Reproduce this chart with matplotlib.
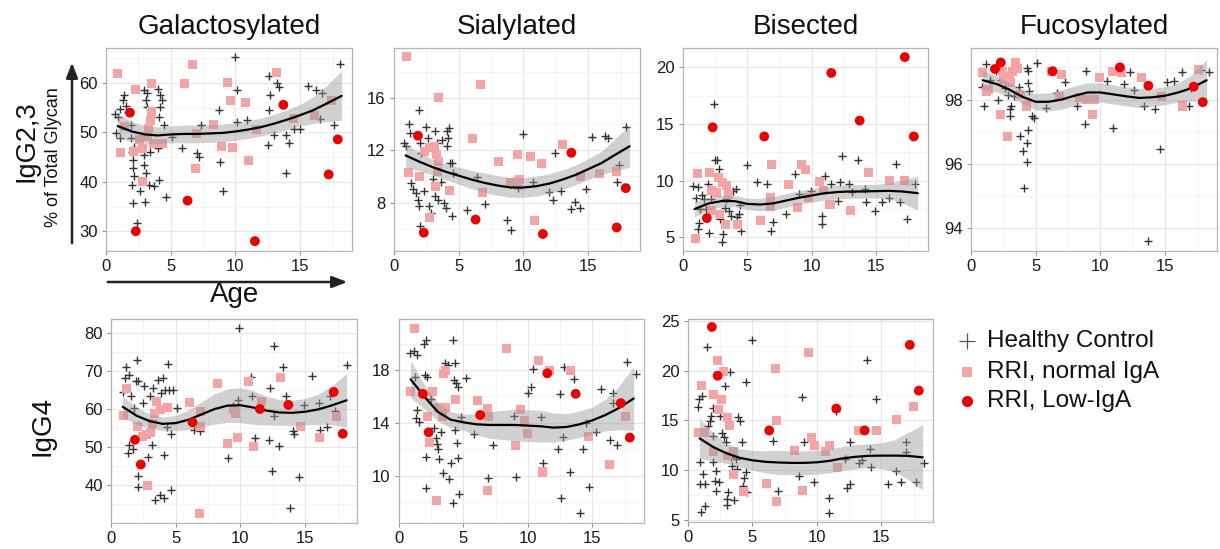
import matplotlib
matplotlib.use("Agg")
import matplotlib.pyplot as plt
from matplotlib.lines import Line2D

plt.rcParams['font.family'] = ['Liberation Sans', 'DejaVu Sans']

# ---------------- data ----------------
titles = ["Galactosylated", "Sialylated", "Bisected", "Fucosylated"]
row_labels = ["IgG2,3", "IgG4"]
legend_labels = ["Healthy Control", "RRI, normal IgA", "RRI, Low-IgA"]
age_ticks = [0, 5, 10, 15]

low_iga_age = [1.85, 2.3, 6.3, 11.5, 13.7, 17.2, 17.9]
fit_age = [0.9, 2, 3, 4, 5, 6, 7, 8, 9, 10, 11, 12, 13, 14, 15, 16, 17, 18.2]

# --- IgG2,3 Galactosylated ---
gal23_control = [(0.7,53.8),(0.9,53.2),(1.1,54.8),(1.3,56.5),(1.4,57.5),(1.55,55.3),(1.7,54.2),(1.9,51.5),(1.9,48.8),(2.0,46.1),
                 (2.1,44.4),(2.1,42.8),(2.2,41.1),(2.0,39.4),(2.1,35.7),(2.4,31.7),(2.2,47.1),(2.6,38.1),(2.9,43.4),(2.9,45.4),
                 (3.0,36.0),(3.1,41.7),(3.3,39.4),(2.9,58.5),(3.2,57.9),(3.1,56.5),(3.2,55.2),(3.4,46.1),(3.7,39.1),(4.0,46.8),
                 (4.05,58.9),(4.2,57.5),(4.3,56.5),(4.2,55.2),(4.1,53.2),(4.1,40.4),(4.5,51.5),(4.6,37.0),(5.1,49.1),(5.9,46.8),
                 (7.0,45.8),(7.2,45.1),(7.3,51.5),(8.8,44.1),(9.0,38.1),(8.7,54.5),(10.0,65.2),(10.1,58.5),(10.1,52.1),(10.9,52.5),
                 (12.5,47.4),(12.6,54.5),(12.7,57.5),(12.6,61.5),(13.0,49.5),(13.2,60.0),(13.4,59.2),(13.9,49.5),(13.9,41.7),(14.1,47.8),
                 (14.5,50.8),(15.0,50.8),(15.6,59.5),(16.2,58.5),(16.5,52.8),(16.7,57.9),(17.6,51.5),(18.1,63.9),(0.8,49.8),(1.1,48.8)]
gal23_normal = [(0.88,61.9),(1.14,45.9),(2.3,58.7),(3.5,59.9),(2.1,46.1),(2.8,46.8),(2.8,40.1),(3.5,54.2),(3.4,52.5),(3.3,50.8),
                (3.2,49.1),(3.7,47.8),(4.4,47.8),(2.6,48.5),(6.1,59.9),(6.7,63.8),(6.9,42.8),(7.0,49.7),(8.3,51.7),(8.9,47.2),
                (9.4,60.2),(9.6,56.5),(9.8,46.9),(10.8,56.0),(11.0,44.4),(11.6,50.5),(13.2,62.2),(14.5,52.8),(16.1,53.5),(17.4,56.5),
                (1.4,51.3)]
gal23_low = [54.0, 30.0, 36.2, 28.0, 55.6, 41.5, 48.6]
gal23_fit = [51.3,50.2,49.6,49.4,49.6,49.7,49.7,49.8,49.9,50.2,50.6,51.1,51.8,52.6,53.5,54.5,55.8,57.4]
gal23_se = [2.5,2.0,1.8,1.7,1.7,1.8,1.8,1.8,1.8,1.8,1.8,1.8,1.9,2.0,2.2,2.7,3.6,5.0]

# --- IgG2,3 Sialylated ---
sia23_control = [(0.8,12.56),(0.94,12.3),(1.15,14.0),(1.2,13.3),(1.3,9.5),(1.45,9.0),(1.7,8.74),(1.83,8.2),(1.96,15.1),(2.0,12.56),
                 (2.1,11.8),(1.96,7.7),(2.0,6.2),(2.34,8.9),(2.5,13.8),(2.6,12.9),(2.7,7.7),(2.85,7.2),(2.98,9.76),(3.2,13.45),
                 (3.3,12.56),(3.36,8.2),(3.2,8.5),(3.6,9.6),(3.7,12.8),(3.9,7.97),(4.0,7.6),(4.1,13.45),(4.25,13.7),(4.2,12.9),
                 (4.1,12.3),(4.3,11.0),(4.5,11.0),(4.55,10.27),(4.5,6.96),(5.65,7.4),(7.05,7.9),(6.4,9.96),(8.7,6.7),(9.0,5.94),
                 (10.0,13.2),(9.54,9.1),(10.7,9.6),(12.4,11.8),(12.0,8.8),(12.27,8.2),(12.9,8.9),(13.7,7.5),(14.0,8.05),(14.4,7.6),
                 (14.8,9.05),(15.3,13.0),(16.3,13.1),(16.5,12.9),(17.2,9.6),(17.4,10.85),(17.9,13.8)]
sia23_normal = [(0.94,19.13),(1.15,10.27),(1.96,10.0),(2.34,11.9),(2.72,12.2),(3.1,12.3),(3.3,11.7),(3.4,11.1),(3.36,10.4),(3.2,9.25),
                (2.72,6.83),(3.43,16.0),(4.25,8.94),(6.03,12.87),(6.67,17.0),(6.84,8.8),(8.1,11.1),(8.96,9.55),(9.54,9.6),(9.54,11.67),
                (9.7,9.76),(10.56,11.54),(10.87,6.65),(11.4,10.98),(13.0,12.43),(14.4,10.0),(15.9,10.2),(17.2,10.4)]
sia23_low = [13.1, 5.7, 6.7, 5.6, 11.8, 6.1, 9.1]
sia23_fit = [11.6,11.1,10.7,10.35,10.05,9.75,9.5,9.3,9.15,9.15,9.25,9.45,9.75,10.1,10.55,11.0,11.6,12.3]
sia23_se = [0.9,0.7,0.6,0.6,0.65,0.7,0.75,0.75,0.75,0.75,0.75,0.75,0.75,0.75,0.8,0.9,1.2,1.6]

# --- IgG2,3 Bisected ---
bis23_control = [(0.77,9.56),(1.0,8.5),(1.2,9.4),(1.3,7.5),(1.27,6.3),(1.2,5.7),(1.45,8.7),(1.6,8.4),(1.8,7.5),(1.9,9.7),
                 (2.0,5.4),(2.2,8.4),(2.5,11.8),(2.4,16.8),(2.65,11.8),(2.8,11.0),(2.9,6.6),(3.0,4.56),(3.1,5.3),(3.24,7.6),
                 (3.37,8.4),(3.57,7.35),(3.75,6.9),(3.9,9.1),(4.1,9.26),(4.2,6.76),(4.35,7.06),(4.5,5.6),(4.4,7.9),(5.0,11.4),
                 (5.7,9.85),(6.5,9.7),(6.8,5.6),(7.0,6.4),(8.0,7.06),(8.65,10.6),(9.0,8.8),(9.9,9.1),(10.8,6.9),(10.8,6.2),
                 (11.0,10.4),(11.5,9.7),(12.0,8.24),(12.2,9.85),(12.35,12.2),(12.9,9.7),(13.1,9.0),(13.6,11.8),(14.1,9.26),(14.2,8.1),
                 (14.9,7.35),(15.4,8.1),(16.0,8.5),(16.5,11.5),(16.8,8.1),(17.4,6.6),(18.0,9.7)]
bis23_normal = [(0.94,4.94),(1.15,10.6),(2.04,10.7),(2.2,9.1),(2.6,9.0),(2.73,10.3),(3.1,9.85),(3.37,9.56),(3.5,8.8),(2.86,7.06),
                (3.3,6.18),(2.2,7.35),(4.2,6.1),(6.0,6.5),(6.8,8.5),(6.9,11.4),(6.8,7.7),(8.16,9.7),(8.85,7.6),(9.2,11.4),
                (9.5,11.0),(9.74,8.5),(10.56,9.94),(10.9,9.1),(11.4,7.9),(13.0,7.4),(14.4,10.7),(16.0,10.0),(17.2,10.0)]
bis23_low = [6.7, 14.7, 13.9, 19.5, 15.3, 20.9, 13.9]
bis23_fit = [7.5,8.0,8.2,8.2,7.95,7.9,8.0,8.25,8.5,8.7,8.9,9.0,9.05,9.05,9.08,9.1,9.05,8.9]
bis23_se = [0.7,0.55,0.5,0.5,0.5,0.55,0.6,0.6,0.6,0.6,0.6,0.6,0.6,0.6,0.6,0.7,1.0,1.5]

# --- IgG2,3 Fucosylated ---
fuc23_control = [(1.04,97.8),(1.17,99.1),(0.83,98.4),(1.5,98.6),(1.9,98.9),(2.1,98.0),(2.3,98.6),(2.66,98.36),(2.84,98.15),(3.0,97.7),
                 (3.1,97.8),(3.05,97.5),(3.3,98.1),(3.7,98.4),(3.8,96.86),(4.0,96.4),(4.1,95.25),(4.3,96.65),(4.35,96.05),(4.4,97.07),
                 (4.4,98.52),(4.4,98.88),(4.5,98.26),(4.7,97.48),(4.9,97.43),(4.3,98.98),(5.1,99.14),(5.8,97.74),(6.64,98.2),(7.27,98.54),
                 (8.2,97.8),(8.85,98.9),(8.8,97.25),(10.5,98.57),(11.0,97.12),(11.8,98.47),(12.3,98.85),(12.6,98.3),(13.4,97.8),(14.2,97.7),
                 (14.6,96.45),(13.7,93.6),(15.15,98.54),(15.7,98.57),(16.3,98.85),(16.85,97.8),(17.0,98.36),(17.8,98.93),(18.4,98.85)]
fuc23_normal = [(0.9,98.83),(1.17,98.26),(1.35,98.31),(2.4,98.88),(2.5,98.62),(3.05,98.54),(3.2,98.88),(3.4,99.16),(3.6,98.95),(3.0,98.73),
                (2.3,97.53),(2.8,96.86),(3.8,98.16),(4.3,97.8),(6.2,98.88),(7.0,98.78),(6.8,98.1),(8.4,98.05),(9.0,98.0),(9.55,98.0),
                (9.4,97.53),(9.9,98.67),(10.9,98.88),(11.6,98.83),(13.2,98.67),(14.7,98.1),(16.3,97.8),(17.6,98.93)]
fuc23_low = [98.95, 99.15, 98.88, 99.0, 98.43, 98.4, 97.92]
fuc23_fit = [98.6,98.48,98.3,98.08,97.93,97.93,98.0,98.12,98.22,98.22,98.16,98.1,98.05,98.07,98.12,98.22,98.35,98.6]
fuc23_se = [0.3,0.25,0.22,0.22,0.25,0.28,0.3,0.3,0.3,0.3,0.3,0.3,0.3,0.28,0.28,0.3,0.4,0.65]

# --- IgG4 Galactosylated ---
gal4_control = [(0.9,64.6),(1.08,68.2),(1.15,71.1),(1.4,69.0),(1.28,48.4),(1.4,50.6),(1.67,49.5),(1.54,63.3),(1.8,60.3),(2.0,73.0),
                (1.92,67.3),(2.1,67.3),(2.05,42.3),(2.05,39.6),(2.1,55.9),(2.44,61.6),(2.56,66.0),(2.82,47.5),(3.0,63.3),(3.13,50.6),
                (3.28,65.5),(3.4,36.1),(3.6,67.7),(3.8,37.5),(3.9,64.2),(4.05,68.2),(4.1,36.6),(4.1,48.0),(4.2,65.1),(4.36,55.4),
                (4.5,65.1),(4.4,71.9),(4.75,65.1),(4.6,53.5),(4.6,38.8),(5.1,60.3),(6.4,54.6),(6.9,54.1),(9.0,47.1),(9.4,60.7),
                (9.9,81.3),(9.8,62.5),(10.9,63.3),(10.8,68.4),(11.15,52.4),(12.2,51.9),(12.3,65.5),(12.6,76.5),(12.4,43.6),(12.6,58.1),
                (13.0,50.2),(13.3,71.1),(13.5,63.3),(14.05,54.1),(14.1,53.5),(13.8,33.9),(14.5,42.1),(14.9,61.1),(15.5,68.8),(16.1,61.6),
                (16.15,54.6),(16.7,55.4),(17.3,59.4),(18.2,71.7),(16.9,63.3)]
gal4_normal = [(0.97,58.2),(1.23,65.3),(2.05,55.4),(2.44,52.8),(2.77,53.2),(3.08,53.7),(3.2,56.3),(3.38,58.9),(3.54,62.0),(3.85,59.8),
               (4.36,60.4),(2.82,39.8),(6.1,61.6),(6.8,32.5),(6.92,59.4),(6.92,55.3),(8.26,66.8),(8.97,51.0),(9.5,59.8),(9.6,58.9),
               (9.8,52.6),(10.6,67.3),(11.0,50.2),(11.6,62.0),(13.1,68.2),(14.6,55.4),(16.1,52.4),(17.4,58.1)]
gal4_low = [51.9, 45.4, 56.5, 60.0, 61.1, 64.5, 53.5]
gal4_fit = [60.6,58.2,56.8,56.1,56.3,57.2,58.6,60.0,60.9,61.0,60.4,59.6,59.1,59.0,59.3,59.9,60.9,62.3]
gal4_se = [2.8,2.2,1.9,1.8,2.0,2.6,3.3,4.0,4.4,4.6,4.4,3.8,3.4,3.3,3.5,4.0,5.0,7.0]

# --- IgG4 Sialylated ---
sia4_control = [(0.86,19.26),(1.17,19.4),(1.38,19.13),(1.22,17.45),(1.3,14.35),(1.43,14.98),(1.56,14.1),(1.9,20.0),(2.08,20.26),(2.0,17.6),
                (2.08,11.46),(2.08,9.07),(2.16,17.45),(2.47,15.8),(2.73,13.6),(2.86,12.84),(2.94,12.41),(3.04,12.0),(3.1,11.3),(3.25,13.35),
                (3.38,10.2),(3.56,18.5),(3.77,18.38),(3.9,9.8),(4.0,10.96),(4.16,7.94),(4.16,20.26),(4.23,17.25),(4.34,18.55),(4.34,13.47),
                (4.4,17.0),(4.5,12.46),(4.55,16.74),(4.6,11.33),(4.68,8.64),(4.8,14.48),(5.2,17.37),(5.84,13.17),(7.27,12.34),(6.94,9.82),
                (8.9,14.53),(9.1,9.95),(10.0,16.24),(10.26,16.7),(10.4,18.05),(11.04,14.48),(11.17,10.96),(12.34,12.0),(12.47,16.19),(12.6,8.3),
                (12.73,12.92),(12.8,18.25),(13.24,10.33),(13.6,17.3),(14.3,12.0),(14.47,13.97),(14.0,7.18),(14.73,9.2),(15.25,13.35),(15.66,16.54),
                (16.36,12.7),(16.6,16.29),(16.9,12.34),(17.7,18.63),(18.36,17.7),(16.6,15.48)]
sia4_normal = [(1.17,21.1),(0.9,16.4),(2.2,14.5),(2.34,12.5),(2.6,16.4),(3.04,15.2),(3.45,17.7),(3.64,17.95),(3.64,15.2),(3.4,14.5),
               (2.94,8.14),(4.4,15.8),(6.1,15.7),(6.9,15.1),(6.94,14.5),(6.83,8.9),(8.3,19.6),(9.0,12.3),(9.4,15.0),(9.7,14.2),
               (9.95,13.2),(10.8,18.75),(11.1,10.3),(11.7,17.95),(13.3,17.95),(14.7,13.0),(16.3,10.9),(17.6,14.5)]
sia4_low = [16.2, 13.3, 14.6, 17.75, 16.2, 15.5, 12.9]
sia4_fit = [17.3,15.95,14.85,14.25,14.05,13.9,13.85,13.85,13.85,13.8,13.75,13.65,13.7,13.9,14.2,14.6,15.1,15.85]
sia4_se = [1.4,0.9,0.7,0.6,0.6,0.8,1.0,1.1,1.2,1.2,1.2,1.1,1.0,1.0,1.0,1.2,1.6,2.4]

# --- IgG4 Bisected ---
bis4_control = [(0.86,17.16),(0.78,16.32),(0.9,10.8),(0.96,8.63),(1.04,5.85),(1.3,6.4),(1.48,22.34),(1.3,8.63),(1.17,9.63),(1.1,17.5),
                (1.56,14.48),(1.7,14.98),(1.82,15.48),(1.9,16.22),(1.95,13.48),(1.95,10.8),(2.08,8.96),(2.16,7.96),(2.2,9.97),(2.4,8.8),
                (2.47,15.48),(2.6,13.75),(2.78,13.3),(2.94,12.8),(2.86,18.5),(3.1,7.8),(3.04,7.12),(2.99,6.52),(3.25,19.83),(3.3,11.3),
                (3.45,10.47),(3.56,7.06),(3.7,11.14),(3.77,10.13),(3.9,15.32),(4.03,14.98),(4.16,12.8),(4.23,8.46),(4.34,9.2),(4.5,9.87),
                (4.5,18.9),(4.6,7.8),(5.0,23.1),(6.57,12.98),(7.0,7.96),(8.57,9.47),(8.83,17.33),(9.0,12.8),(9.74,8.8),(10.9,7.2),
                (10.9,5.72),(11.5,15.99),(12.2,11.14),(12.34,8.2),(12.6,8.63),(12.6,12.88),(13.25,10.74),(13.5,11.07),(13.9,21.1),(14.1,12.14),
                (14.2,10.3),(14.6,17.2),(15.5,8.63),(16.1,9.97),(16.5,8.8),(16.9,11.87),(16.9,12.88),(17.7,8.8),(18.3,10.74)]
bis4_normal = [(0.78,13.75),(1.3,13.75),(1.04,18.5),(1.95,17.66),(2.26,21.0),(2.6,17.16),(2.4,16.15),(2.78,19.9),(3.1,15.3),(3.2,14.5),
               (2.0,11.87),(3.1,11.47),(3.5,11.87),(3.56,9.53),(4.3,7.86),(6.05,8.63),(6.75,20.27),(6.9,15.0),(6.9,6.86),(8.23,11.97),
               (8.9,8.0),(9.35,21.84),(9.6,13.3),(9.8,12.47),(10.7,11.87),(11.0,12.47),(11.6,10.3),(13.2,13.98),(14.6,13.98),(16.2,15.15),
               (17.5,16.4)]
bis4_low = [24.4, 19.5, 14.0, 16.2, 14.0, 22.6, 18.0]
bis4_fit = [13.2,12.3,11.7,11.25,11.0,10.85,10.78,10.74,10.74,10.8,10.95,11.2,11.35,11.45,11.47,11.47,11.45,11.3]
bis4_se = [2.0,1.4,1.0,0.9,1.0,1.1,1.2,1.2,1.2,1.2,1.2,1.2,1.2,1.2,1.3,1.6,2.3,3.3]

gal23_yticks = [30, 40, 50, 60]
sia23_yticks = [8, 12, 16]
bis23_yticks = [5, 10, 15, 20]
fuc23_yticks = [94, 96, 98]
gal4_yticks = [40, 50, 60, 70, 80]
sia4_yticks = [10, 14, 18]
bis4_yticks = [5, 10, 15, 20, 25]

# ---------------- layout / style ----------------
W, H = 1220, 549
fig = plt.figure(figsize=(W / 100, H / 100), dpi=100)

def box(l, r, t, b):
    return [l / W, 1 - b / H, (r - l) / W, (b - t) / H]

panels = [
    (box(106, 352, 48, 251), gal23_control, gal23_normal, gal23_low, gal23_fit, gal23_se, gal23_yticks, (26, 67.1)),
    (box(394, 640, 48, 251), sia23_control, sia23_normal, sia23_low, sia23_fit, sia23_se, sia23_yticks, (4.3, 19.8)),
    (box(683, 928, 48, 251), bis23_control, bis23_normal, bis23_low, bis23_fit, bis23_se, bis23_yticks, (3.8, 21.7)),
    (box(971, 1217, 48, 251), fuc23_control, fuc23_normal, fuc23_low, fuc23_fit, fuc23_se, fuc23_yticks, (93.3, 99.6)),
    (box(111, 357, 319, 523), gal4_control, gal4_normal, gal4_low, gal4_fit, gal4_se, gal4_yticks, (30, 83.7)),
    (box(399, 644, 319, 523), sia4_control, sia4_normal, sia4_low, sia4_fit, sia4_se, sia4_yticks, (6.45, 21.85)),
    (box(688, 933, 319, 522), bis4_control, bis4_normal, bis4_low, bis4_fit, bis4_se, bis4_yticks, (4.8, 25.2)),
]

CROSS = '#333333'
PINK = '#f5a3a3'
RED = '#ee0000'

axes = []
for i, (rect, ctrl, norm, low, fit, se, yt, ylim) in enumerate(panels):
    ax = fig.add_axes(rect)
    axes.append(ax)
    ax.set_xlim(0, 19)
    ax.set_xticks(age_ticks)
    ax.set_xticks([2.5, 7.5, 12.5, 17.5], minor=True)
    ax.set_yticks(yt)
    step = yt[1] - yt[0]
    ax.set_yticks([v + step / 2 for v in [yt[0] - step] + yt], minor=True)
    ax.set_ylim(*ylim)
    ax.grid(True, which='major', color='#e6e6e6', lw=0.8, zorder=0)
    ax.grid(True, which='minor', color='#f3f3f3', lw=0.6, zorder=0)
    ax.set_axisbelow(True)
    for s in ax.spines.values():
        s.set_color('#b5b5b5')
        s.set_linewidth(0.9)
    ax.tick_params(which='major', length=3, width=0.7, color='#888888',
                   labelsize=12, labelcolor='#1a1a1a', pad=3)
    ax.tick_params(which='minor', length=0)

    ax.scatter([p[0] for p in ctrl], [p[1] for p in ctrl], marker='+', s=26,
               color=CROSS, linewidths=1.0, zorder=2)
    ax.scatter([p[0] for p in norm], [p[1] for p in norm], marker='s', s=42,
               color=PINK, edgecolors='none', zorder=3)
    lo = [f - e for f, e in zip(fit, se)]
    hi = [f + e for f, e in zip(fit, se)]
    ax.fill_between(fit_age, lo, hi, color='#9a9a9a', alpha=0.45, lw=0, zorder=4)
    ax.plot(fit_age, fit, color='black', lw=1.6, zorder=5, solid_capstyle='round')
    ax.scatter(low_iga_age, low, marker='o', s=50, color=RED, edgecolors='none', zorder=6)

    if i < 4:
        ax.set_title(titles[i], fontsize=20, pad=10, color='#111111')

# ---------------- overlay: labels, arrows, legend ----------------
ov = fig.add_axes([0, 0, 1, 1], zorder=10)
ov.set_xlim(0, W)
ov.set_ylim(H, 0)
ov.axis('off')
ov.patch.set_alpha(0)

ov.text(27, 141, row_labels[0], rotation=90, fontsize=19.5, ha='center', va='center', color='#111111')
ov.text(53, 157, "% of Total Glycan", rotation=90, fontsize=13, ha='center', va='center', color='#111111')
ov.text(43, 426, row_labels[1], rotation=90, fontsize=20, ha='center', va='center', color='#111111')
ov.text(235, 295, "Age", fontsize=20, ha='center', va='center', color='#111111')

ov.annotate('', xy=(72, 60), xytext=(72, 246),
            arrowprops=dict(arrowstyle='-|>,head_length=0.9,head_width=0.35', color='#222222', lw=1.8))
ov.annotate('', xy=(350, 282), xytext=(105, 282),
            arrowprops=dict(arrowstyle='-|>,head_length=0.9,head_width=0.35', color='#222222', lw=1.8))

leg_y = [341, 372, 401]
ov.add_line(Line2D([967], [leg_y[0]], marker='+', markersize=11, markeredgewidth=0.9, color='#555555', ls='none'))
ov.add_line(Line2D([967], [leg_y[1]], marker='s', markersize=7.5, color=PINK, markeredgewidth=0, ls='none'))
ov.add_line(Line2D([967], [leg_y[2]], marker='o', markersize=8, color=RED, markeredgewidth=0, ls='none'))
for yy, lab in zip(leg_y, legend_labels):
    ov.text(987, yy, lab, fontsize=17.5, ha='left', va='center', color='#111111')

fig.savefig('out.png', dpi=100)
